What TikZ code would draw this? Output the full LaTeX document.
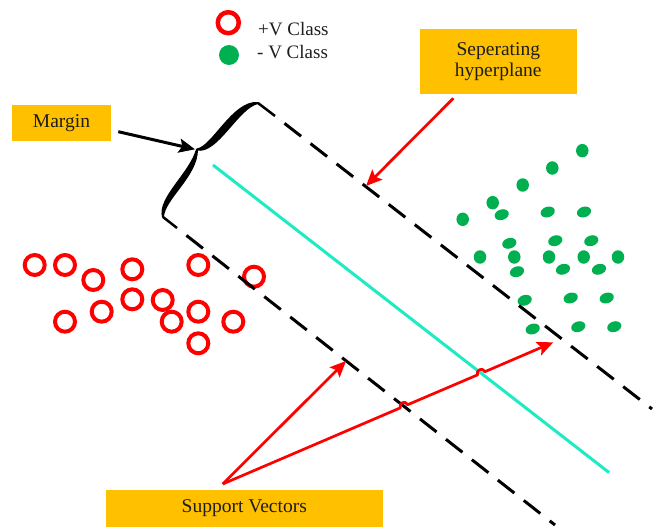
\documentclass[tikz,border=0pt]{standalone}
\usepackage{fontspec}
\setmainfont{Liberation Serif}
\usetikzlibrary{arrows.meta,shapes.geometric}
\definecolor{boxorange}{RGB}{255,192,0}
\definecolor{ptgreen}{RGB}{0,176,80}
\definecolor{hypcyan}{RGB}{30,235,195}
\definecolor{txtgray}{RGB}{30,30,30}
\begin{document}
\begin{tikzpicture}[x=1pt,y=-1pt,
  labelbox/.style={fill=boxorange, inner sep=0pt, text=txtgray, font=\fontsize{19.5}{21.6}\selectfont, align=center},
  legtext/.style={anchor=west, inner sep=0pt, text=txtgray, font=\fontsize{19}{21}\selectfont},
  poscirc/.style={circle, draw=red, line width=4pt, minimum size=20pt, inner sep=0pt},
  negdot/.style={ellipse, fill=ptgreen, inner sep=0pt, minimum width=12.5pt, minimum height=13.5pt},
  negtilt/.style={ellipse, fill=ptgreen, inner sep=0pt, minimum width=14.5pt, minimum height=10.5pt, rotate=18},
  marginline/.style={line width=3pt, dash pattern=on 21pt off 12pt, dash phase=21pt},
  redarrow/.style={red, line width=2.7pt, -{Stealth[length=16pt,width=14pt,inset=3pt]}},
  blackarrow/.style={black, line width=3pt, -{Stealth[length=16pt,width=14pt,inset=3pt]}},
]
\useasboundingbox (0,0) rectangle (657,527);

% legend
\node[poscirc, minimum size=21pt, line width=4.5pt] (legpos) at (228.3,22.7) {};
\node[legtext] (legpostxt) at (258,29) {+V Class};
\node[circle, fill=ptgreen, minimum size=20pt, inner sep=0pt] (legneg) at (229,55) {};
\node[legtext] (legnegtxt) at (257,52.5) {- V Class};

% positive class
\foreach \x/\y [count=\i] in {34.7/265, 65/265, 93.3/280, 132.3/269.3, 198.3/265, 254/276.7,
  101.7/311.7, 132.3/299.3, 162.7/300, 65/321.7, 171.7/321.7, 198.3/311.7, 233.3/321.7, 198.3/343.3}
  \node[poscirc] (pos\i) at (\x,\y) {};

% negative class
\foreach \x/\y [count=\i] in {582.3/150.7, 552.3/168, 522.7/185, 492.7/202.7, 462.7/219.3,
  480/257, 514.3/257, 549/257, 583.7/257, 618/257}
  \node[negdot] (negr\i) at (\x,\y) {};
\foreach \x/\y [count=\i] in {501.7/214.7, 547.7/212, 584/212, 509.3/243.3, 555.3/240.7, 591.3/240.7,
  517/271.7, 563/269.3, 599/269.3, 524.7/300.3, 570.7/298, 606.7/298, 532.7/329, 578.3/326.7, 614.3/326.7}
  \node[negtilt] (negt\i) at (\x,\y) {};

% brace
\coordinate (braceA) at (163,217);
\coordinate (braceB) at (258,103);
\coordinate (cusp) at (197,149.5);
\coordinate (hookA) at (177,228);
\coordinate (hookB) at (275,116);
\filldraw[line width=2pt, line join=round]
  (braceA) .. controls (163.5,199) and (197,176) .. (cusp)
  .. controls (190,174) and (158,198) .. (braceA) -- cycle;
\filldraw[line width=2pt, line join=round]
  (cusp) .. controls (217,154) and (238,107) .. (braceB)
  .. controls (233,101) and (213,147) .. (cusp) -- cycle;
\draw[line width=2.5pt] (braceA) -- (hookA);
\draw[line width=2.5pt] (braceB) -- (hookB);

% margin lines and hyperplane
\coordinate (upEnd) at (652,409);
\coordinate (lowEnd) at (555,525);
\draw[marginline] (hookB) -- (upEnd);
\draw[marginline] (hookA) -- (lowEnd);
\coordinate (cyA) at (213,165);
\coordinate (cyB) at (609,472.5);
\draw[hypcyan, line width=3pt] (cyA) -- (cyB);

% labels
\node[labelbox, minimum width=98.4pt, minimum height=35.7pt] (margin) at (61.5,122.9) {Margin};
\node[labelbox, minimum width=156.7pt, minimum height=65pt] (hyper) at (498.3,61.5) {Seperating\\hyperplane};
\node[labelbox, minimum width=276.7pt, minimum height=37pt] (support) at (244.3,508.5) {Support Vectors};

% arrows
\coordinate (mstart) at (118.3,131.7);
\coordinate (mtip) at (195,149.3);
\draw[blackarrow] (mstart) -- (mtip);

\coordinate (hstart) at (453.3,98.3);
\coordinate (htip) at (366,186);
\draw[redarrow] (hstart) -- (htip);

\coordinate (svbase) at (222.7,484);
\coordinate (sv1tip) at (346,361);
\coordinate (sv2tip) at (553.3,342.3);
\coordinate (hopAa) at (400.27,407.88);
\coordinate (hopAc) at (398.18,403.01);
\coordinate (hopAd) at (405.54,399.85);
\coordinate (hopAb) at (407.63,404.72);
\coordinate (hopBa) at (477.52,374.88);
\coordinate (hopBc) at (475.43,370.01);
\coordinate (hopBd) at (482.79,366.85);
\coordinate (hopBb) at (484.88,371.72);
\draw[redarrow] (svbase) -- (sv1tip);
\draw[redarrow, line join=round] (svbase) -- (hopAa) .. controls (hopAc) and (hopAd) .. (hopAb)
  -- (hopBa) .. controls (hopBc) and (hopBd) .. (hopBb) -- (sv2tip);
\end{tikzpicture}
\end{document}
